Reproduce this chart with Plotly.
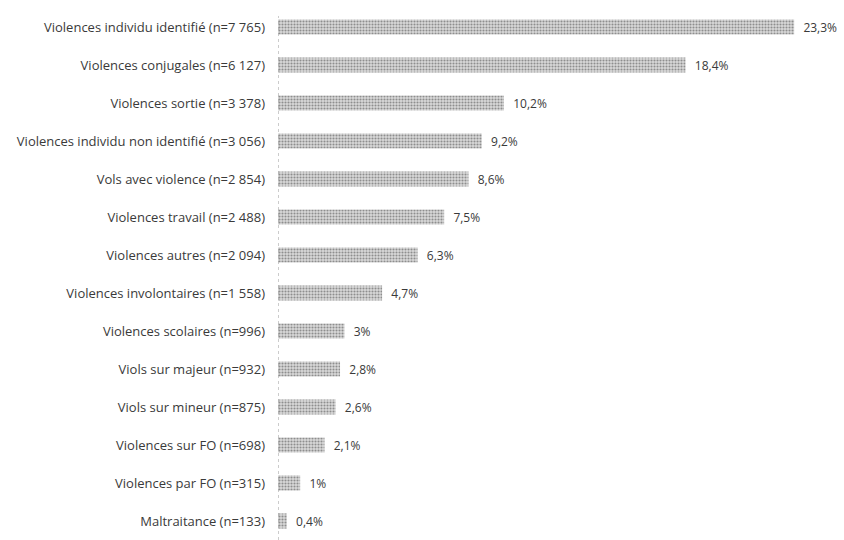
import plotly.graph_objects as go

categories = [
    "Violences individu identifié (n=7 765)",
    "Violences conjugales (n=6 127)",
    "Violences sortie (n=3 378)",
    "Violences individu non identifié (n=3 056)",
    "Vols avec violence (n=2 854)",
    "Violences travail (n=2 488)",
    "Violences autres (n=2 094)",
    "Violences involontaires (n=1 558)",
    "Violences scolaires (n=996)",
    "Viols sur majeur (n=932)",
    "Viols sur mineur (n=875)",
    "Violences sur FO (n=698)",
    "Violences par FO (n=315)",
    "Maltraitance (n=133)",
]
shares = [23.3, 18.4, 10.2, 9.2, 8.6, 7.5, 6.3, 4.7, 3.0, 2.8, 2.6, 2.1, 1.0, 0.4]
share_labels = ["23,3%", "18,4%", "10,2%", "9,2%", "8,6%", "7,5%", "6,3%",
                "4,7%", "3%", "2,8%", "2,6%", "2,1%", "1%", "0,4%"]

fig = go.Figure(
    go.Bar(
        x=shares,
        y=categories,
        orientation="h",
        width=0.4,
        text=share_labels,
        texttemplate="  %{text}",
        textposition="outside",
        constraintext="none",
        cliponaxis=False,
        textfont=dict(family="Open Sans", size=12, color="#3a3a3a"),
        marker=dict(
            color="#d0d0d0",
            line=dict(width=0),
            pattern=dict(shape=".", fgcolor="#8e8e8e", bgcolor="#dadada",
                         size=3, solidity=0.4, fillmode="replace"),
        ),
        hoverinfo="skip",
    )
)

# dotted category axis line at x = 0
fig.add_shape(type="line", xref="x", yref="paper", x0=0, x1=0, y0=0, y1=0.985,
              line=dict(color="#9a9a9a", width=1, dash="dot"))

fig.update_layout(
    width=844, height=540,
    margin=dict(l=278, r=0, t=8, b=0),
    paper_bgcolor="white", plot_bgcolor="white",
    showlegend=False,
    bargap=0.6,
    xaxis=dict(range=[0, 25.55], visible=False),
    yaxis=dict(
        autorange="reversed",
        showgrid=False, zeroline=False, showline=False,
        ticks="", ticklabelstandoff=12,
        tickfont=dict(family="Open Sans", size=13, color="#3a3a3a"),
    ),
)

fig.write_html("out.html")
